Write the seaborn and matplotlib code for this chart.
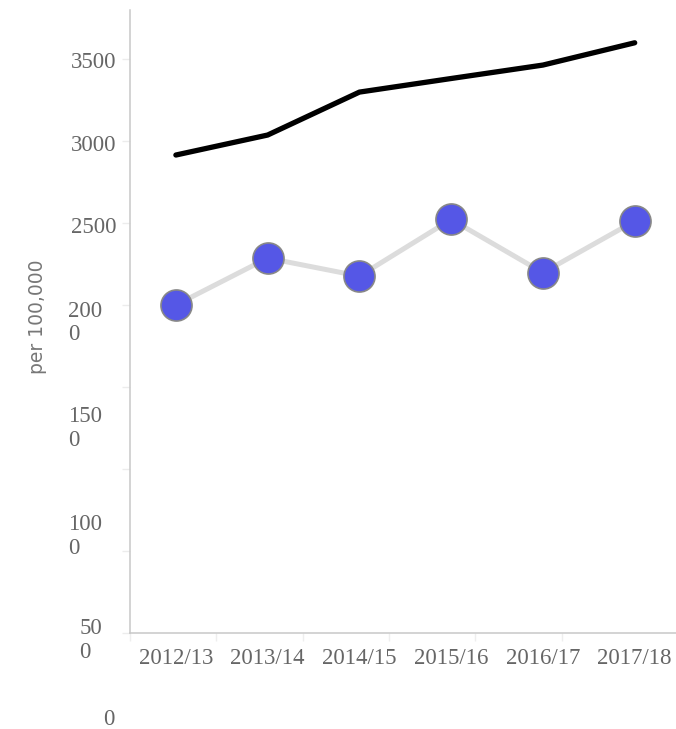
import numpy as np
import pandas as pd
import matplotlib
matplotlib.use("Agg")
import matplotlib.pyplot as plt
import seaborn as sns

# Data
years = ["2012/13", "2013/14", "2014/15", "2015/16", "2016/17", "2017/18"]
national_rate = [2915, 3037, 3299, 3382, 3464, 3600]
local_rate = [2000, 2286, 2176, 2522, 2197, 2512]

y_ticks = [0, 500, 1000, 1500, 2000, 2500, 3000, 3500]
y_tick_labels = ["0", "50\n0", "100\n0", "150\n0", "200\n0", "2500", "3000", "3500"]

sns.set_style("white")
plt.rcParams["font.family"] = ["Liberation Serif", "DejaVu Serif"]

TEXT = "#666666"
AXIS = "#c8c8c8"
FS = 16.5

df = pd.DataFrame({"year": years, "national": national_rate, "local": local_rate})

fig = plt.figure(figsize=(6.76, 7.29), dpi=100)
ax = fig.add_axes([130 / 676, (729 - 632.7) / 729, 1 - 130 / 676, (632.7 - 10) / 729])

sns.lineplot(data=df, x="year", y="national", color="black", linewidth=3.8,
             sort=False, ax=ax, solid_capstyle="round", zorder=3)
sns.lineplot(data=df, x="year", y="local", color="#dcdcdc", linewidth=3.6,
             sort=False, ax=ax, solid_capstyle="round", zorder=2)
sns.scatterplot(data=df, x="year", y="local", s=500, color="#5557e6",
                edgecolor="#888888", linewidth=1.2, ax=ax, zorder=4)

ax.set_ylim(0, 3800)
ax.set_xlim(-0.49, 5.45)

# Spines
for side in ["top", "right"]:
    ax.spines[side].set_visible(False)
for side in ["left", "bottom"]:
    ax.spines[side].set_color(AXIS)
    ax.spines[side].set_linewidth(1.1)

# X axis: category labels and faint band ticks
ax.set_xticks(range(len(years)))
ax.set_xticklabels(years)
ax.set_xticks(np.arange(len(years)) * 0.941 - 0.5, minor=True)
ax.tick_params(axis="x", which="both", bottom=True)
ax.tick_params(axis="x", which="major", length=0, pad=11, labelsize=FS, labelcolor=TEXT)
ax.tick_params(axis="x", which="minor", length=6, width=1, color="#eeeeee", direction="out")
ax.set_xlabel("")

# Y axis: short tick marks, labels drawn as wrapped text
ax.set_yticks(y_ticks)
ax.set_yticklabels([])
ax.tick_params(axis="y", which="major", left=True, length=6, width=1,
               color="#ececec", direction="out")
ax.set_ylabel("")

# offsets of each label's first-line baseline below its tick (pixels)
label_drop = [92, 83, 61, 35, 11, 10, 10, 9]
label_right = [15, 28, 28, 28, 28, 14, 14, 14]
line_pitch = 24
for val, lab, dy, dx in zip(y_ticks, y_tick_labels, label_drop, label_right):
    extra = line_pitch * lab.count("\n")
    ax.annotate(lab, xy=(0, val), xycoords=ax.get_yaxis_transform(),
                xytext=(-dx, -(dy + extra)), textcoords="offset pixels",
                ha="right", va="baseline", multialignment="left",
                fontsize=FS, color=TEXT, linespacing=1.15, annotation_clip=False)

fig.text(37.5 / 676, 1 - 317 / 729, "per 100,000", rotation=90, ha="center", va="center",
         fontsize=13.5, color="#777777", family=["DejaVu Sans"])

fig.savefig("out.png", dpi=100)
